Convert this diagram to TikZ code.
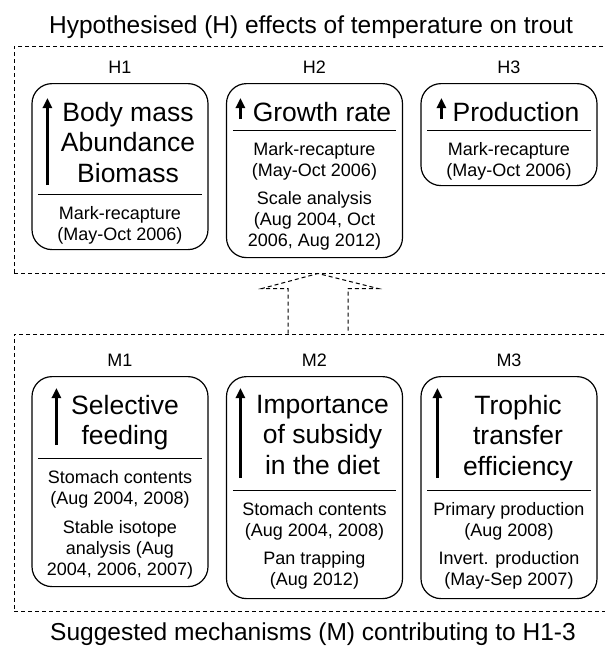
\documentclass[tikz,border=0pt]{standalone}
\usepackage{fontspec}
\setmainfont{Liberation Sans}
\usepackage{tikz}
\usetikzlibrary{arrows.meta, positioning}

\tikzstyle{panel} = [rectangle, draw=black, line width=1pt, dash pattern=on 4pt off 3pt, minimum width=608pt, inner sep=0pt]
\tikzstyle{card} = [rectangle, rounded corners=20pt, draw=black, line width=1.2pt, minimum width=176pt, anchor=north, inner sep=0pt]
\tikzstyle{heading} = [font=\fontsize{24.5pt}{28pt}\selectfont, inner sep=0pt]
\tikzstyle{hlabel} = [font=\fontsize{18pt}{21pt}\selectfont, inner sep=0pt]
\tikzstyle{bigtext} = [font=\fontsize{26.5pt}{30.5pt}\selectfont, align=center, inner sep=0pt]
\tikzstyle{method} = [font=\fontsize{18pt}{21pt}\selectfont, align=center, inner sep=0pt]
\tikzstyle{divider} = [line width=1pt]
\tikzstyle{uparrow} = [line width=3pt, -{Triangle[length=10pt,width=9pt]}]
\tikzstyle{bigarrow} = [line width=1pt, dash pattern=on 4pt off 3pt]

\begin{document}
\begin{tikzpicture}[x=1pt, y=-1pt]
\useasboundingbox (0,0) rectangle (605,646);

% Panels
\node (hyp) [panel, minimum height=227pt] at (318,159.5) {};
\node (mech) [panel, minimum height=277pt] at (318,472.5) {};
\node (hyptitle) [heading, above=7pt of hyp, xshift=-7pt] {Hypothesised (H) effects of temperature on trout};
\node (mechtitle) [heading, below=11pt of mech, xshift=-5pt] {Suggested mechanisms (M) contributing to H1-3};

% H1
\node (h1) [card, minimum height=166pt] at (120,83) {};
\node (h1lbl) [hlabel, above=9.5pt of h1] {H1};
\node (h1txt) [bigtext, below=19pt of h1.north, xshift=8pt] {Body mass\\Abundance\\Biomass};
\node (h1src) [method, below=123.5pt of h1.north] {Mark-recapture\\(May-Oct 2006)};
\draw [divider] ([xshift=7pt,yshift=-111pt]h1.north west) -- ([xshift=-7pt,yshift=-111pt]h1.north east);
\draw [uparrow] ([xshift=16pt,yshift=-102pt]h1.north west) -- ([xshift=16pt,yshift=-15pt]h1.north west);

% H2
\node (h2) [card, minimum height=174pt] at (314.5,83) {};
\node (h2lbl) [hlabel, above=9.5pt of h2] {H2};
\node (h2txt) [bigtext, below=19pt of h2.north, xshift=7.5pt] {Growth rate};
\node (h2src) [method, below=59.5pt of h2.north] {Mark-recapture\\(May-Oct 2006)\\[7pt]Scale analysis\\(Aug 2004, Oct\\2006, Aug 2012)};
\draw [divider] ([xshift=7pt,yshift=-47pt]h2.north west) -- ([xshift=-7pt,yshift=-47pt]h2.north east);
\draw [uparrow] ([xshift=14.5pt,yshift=-36pt]h2.north west) -- ([xshift=14.5pt,yshift=-15pt]h2.north west);

% H3
\node (h3) [card, minimum height=102pt] at (509,83) {};
\node (h3lbl) [hlabel, above=9.5pt of h3] {H3};
\node (h3txt) [bigtext, below=19pt of h3.north, xshift=7pt] {Production};
\node (h3src) [method, below=59.5pt of h3.north] {Mark-recapture\\(May-Oct 2006)};
\draw [divider] ([xshift=7pt,yshift=-47pt]h3.north west) -- ([xshift=-7pt,yshift=-47pt]h3.north east);
\draw [uparrow] ([xshift=21pt,yshift=-36pt]h3.north west) -- ([xshift=21pt,yshift=-15pt]h3.north west);

% M1
\node (m1) [card, minimum height=210pt] at (120,376) {};
\node (m1lbl) [hlabel, above=9.5pt of m1] {M1};
\node (m1txt) [bigtext, below=19pt of m1.north, xshift=5pt] {Selective\\feeding};
\node (m1src) [method, below=94.5pt of m1.north] {Stomach contents\\(Aug 2004, 2008)\\[8pt]Stable isotope\\analysis (Aug\\2004, 2006, 2007)};
\draw [divider] ([xshift=7pt,yshift=-82pt]m1.north west) -- ([xshift=-7pt,yshift=-82pt]m1.north east);
\draw [uparrow] ([xshift=25pt,yshift=-69pt]m1.north west) -- ([xshift=25pt,yshift=-12pt]m1.north west);

% M2
\node (m2) [card, minimum height=222pt] at (314.5,376) {};
\node (m2lbl) [hlabel, above=9.5pt of m2] {M2};
\node (m2txt) [bigtext, below=19pt of m2.north, xshift=8pt] {Importance\\of subsidy\\in the diet};
\node (m2src) [method, below=126.5pt of m2.north] {Stomach contents\\(Aug 2004, 2008)\\[7pt]Pan trapping\\(Aug 2012)};
\draw [divider] ([xshift=7pt,yshift=-114pt]m2.north west) -- ([xshift=-7pt,yshift=-114pt]m2.north east);
\draw [uparrow] ([xshift=14.5pt,yshift=-102pt]m2.north west) -- ([xshift=14.5pt,yshift=-12pt]m2.north west);

% M3
\node (m3) [card, minimum height=222pt] at (509,376) {};
\node (m3lbl) [hlabel, above=9.5pt of m3] {M3};
\node (m3txt) [bigtext, below=19pt of m3.north, xshift=9pt] {Trophic\\transfer\\efficiency};
\node (m3src) [method, below=126.5pt of m3.north] {Primary production\\(Aug 2008)\\[7pt]Invert. production\\(May-Sep 2007)};
\draw [divider] ([xshift=7pt,yshift=-114pt]m3.north west) -- ([xshift=-7pt,yshift=-114pt]m3.north east);
\draw [uparrow] ([xshift=17pt,yshift=-102pt]m3.north west) -- ([xshift=17pt,yshift=-12pt]m3.north west);

% Arrows
\draw [bigarrow] ([xshift=-30pt]mech.north) -- ++(0,-45) -- ++(-26,0) -- (hyp.south) -- ++(60,15) -- ++(-30,0) -- ([xshift=30pt]mech.north);

\end{tikzpicture}
\end{document}
